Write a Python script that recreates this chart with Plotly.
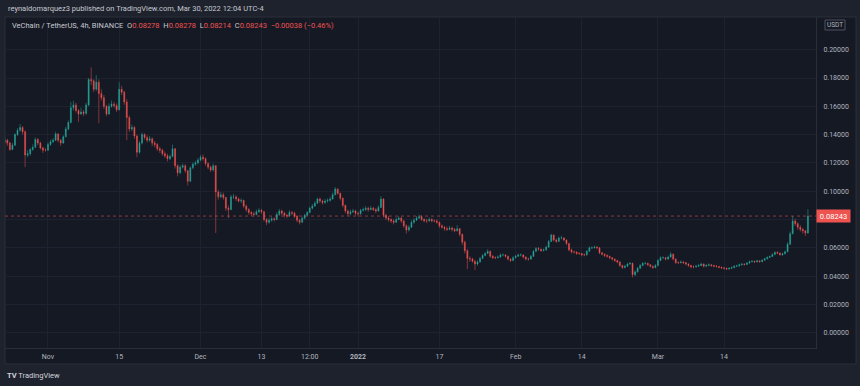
import pandas as pd
import plotly.graph_objects as go

# ---------------- data (prices in 1e-4 USDT, 12h candles) -------------
candle_start = "2021-10-23 12:00"
candle_freq = "12h"
first_open_bp = 1350

close_bp = [
    1360, 1340, 1295, 1325, 1400, 1430, 1450, 1420, 1255, 1265,
    1295, 1310, 1365, 1340, 1305, 1290, 1290, 1330, 1350, 1360,
    1405, 1360, 1340, 1385, 1440, 1485, 1590, 1610, 1570, 1545,
    1560, 1550, 1610, 1790, 1780, 1720, 1770, 1690, 1660, 1600,
    1545, 1600, 1615, 1605, 1575, 1720, 1700, 1630, 1520, 1440,
    1450, 1390, 1275, 1340, 1400, 1380, 1360, 1370, 1340, 1330,
    1300, 1290, 1265, 1250, 1230, 1245, 1300, 1180, 1130, 1170,
    1180, 1145, 1070, 1165, 1190, 1200, 1220, 1240, 1230, 1195,
    1170, 1150, 1180, 995, 960, 975, 955, 880, 870, 960,
    960, 945, 930, 935, 895, 870, 850, 840, 835, 855,
    865, 855, 800, 780, 795, 805, 800, 835, 860, 845,
    830, 825, 850, 845, 825, 795, 780, 810, 830, 850,
    880, 895, 915, 945, 930, 920, 930, 935, 945, 975,
    1015, 985, 950, 900, 860, 840, 855, 860, 845, 840,
    865, 870, 880, 870, 880, 870, 860, 885, 945, 830,
    810, 800, 790, 780, 800, 810, 790, 755, 725, 745,
    780, 795, 810, 820, 800, 790, 790, 800, 790, 790,
    780, 755, 745, 735, 730, 740, 730, 720, 735, 695,
    640, 580, 525, 520, 505, 485, 500, 525, 545, 560,
    575, 540, 530, 530, 535, 550, 550, 540, 520, 510,
    530, 540, 550, 550, 535, 520, 520, 540, 575, 595,
    590, 580, 585, 605, 645, 690, 655, 645, 670, 670,
    655, 630, 585, 570, 570, 560, 560, 550, 550, 575,
    600, 600, 605, 600, 565, 555, 545, 540, 530, 520,
    510, 500, 475, 460, 470, 485, 490, 410, 430, 455,
    475, 490, 490, 480, 470, 460, 475, 510, 530, 530,
    520, 535, 555, 520, 495, 495, 500, 495, 485, 475,
    465, 465, 470, 475, 485, 470, 475, 480, 475, 470,
    468, 462, 458, 455, 450, 455, 460, 470, 472, 480,
    485, 482, 492, 502, 505, 500, 508, 502, 512, 522,
    532, 538, 552, 568, 562, 550, 558, 572, 625, 700,
    790, 770, 745, 730, 720, 705, 824,
]

high_bp = [
    1380, 1370, 1350, 1340, 1410, 1445, 1475, 1460, 1430, 1290,
    1305, 1330, 1380, 1375, 1350, 1315, 1305, 1345, 1365, 1375,
    1420, 1410, 1370, 1395, 1455, 1500, 1630, 1640, 1625, 1580,
    1590, 1575, 1625, 1800, 1875, 1790, 1820, 1790, 1720, 1680,
    1610, 1620, 1640, 1630, 1620, 1770, 1745, 1710, 1650, 1535,
    1470, 1460, 1400, 1355, 1415, 1410, 1395, 1390, 1380, 1355,
    1340, 1315, 1300, 1280, 1265, 1260, 1330, 1305, 1190, 1185,
    1195, 1190, 1150, 1175, 1205, 1215, 1235, 1255, 1260, 1240,
    1205, 1180, 1195, 1185, 1010, 995, 990, 960, 900, 975,
    980, 970, 955, 950, 940, 905, 880, 860, 855, 870,
    880, 875, 860, 810, 810, 820, 815, 850, 875, 870,
    855, 840, 865, 860, 855, 830, 805, 820, 840, 860,
    890, 910, 930, 955, 955, 940, 945, 950, 960, 990,
    1030, 1020, 990, 955, 905, 870, 870, 875, 870, 855,
    875, 885, 895, 890, 895, 890, 880, 900, 965, 950,
    840, 825, 810, 800, 815, 825, 820, 795, 765, 760,
    795, 810, 825, 835, 830, 810, 805, 815, 810, 800,
    800, 785, 765, 755, 750, 755, 750, 740, 760, 740,
    700, 650, 590, 540, 530, 515, 510, 535, 555, 570,
    590, 580, 550, 540, 545, 560, 560, 555, 545, 525,
    540, 550, 560, 560, 555, 540, 530, 550, 585, 605,
    605, 595, 595, 615, 655, 700, 695, 665, 680, 685,
    675, 660, 635, 595, 580, 575, 570, 565, 560, 585,
    610, 610, 615, 612, 605, 570, 560, 555, 545, 535,
    525, 515, 505, 480, 480, 495, 500, 495, 440, 465,
    485, 500, 500, 495, 485, 475, 485, 520, 540, 540,
    535, 545, 570, 560, 525, 505, 510, 505, 500, 490,
    480, 475, 480, 485, 495, 490, 485, 490, 485, 480,
    478, 472, 468, 465, 460, 462, 468, 478, 480, 488,
    492, 490, 500, 510, 512, 510, 515, 512, 520, 530,
    540, 545, 560, 575, 575, 568, 565, 580, 640, 715,
    825, 805, 780, 760, 740, 725, 873,
]

low_bp = [
    1335, 1320, 1285, 1290, 1320, 1390, 1420, 1400, 1170, 1240,
    1250, 1285, 1305, 1325, 1295, 1270, 1280, 1285, 1320, 1340,
    1355, 1345, 1320, 1335, 1380, 1430, 1480, 1570, 1555, 1490,
    1540, 1530, 1540, 1600, 1750, 1700, 1710, 1480, 1640, 1580,
    1530, 1540, 1590, 1590, 1560, 1570, 1680, 1610, 1360, 1420,
    1425, 1370, 1240, 1265, 1330, 1365, 1345, 1350, 1320, 1310,
    1285, 1270, 1250, 1235, 1210, 1220, 1240, 1160, 1105, 1120,
    1160, 1130, 1040, 1065, 1155, 1180, 1190, 1210, 1215, 1180,
    1155, 1135, 1140, 705, 940, 950, 940, 860, 810, 865,
    945, 930, 920, 915, 880, 855, 835, 825, 820, 830,
    845, 840, 785, 760, 770, 785, 785, 795, 825, 830,
    815, 810, 820, 830, 810, 780, 765, 775, 800, 825,
    845, 870, 890, 910, 915, 905, 910, 920, 925, 940,
    970, 975, 935, 885, 845, 825, 830, 845, 830, 820,
    835, 855, 860, 855, 865, 860, 845, 855, 880, 815,
    795, 785, 775, 765, 775, 795, 775, 740, 700, 715,
    740, 770, 790, 805, 790, 780, 775, 785, 780, 780,
    770, 740, 735, 720, 720, 725, 715, 710, 715, 680,
    620, 560, 450, 500, 495, 443, 475, 495, 520, 540,
    555, 530, 520, 520, 525, 530, 540, 530, 510, 500,
    505, 525, 535, 540, 525, 510, 510, 515, 535, 570,
    580, 570, 575, 580, 600, 640, 645, 635, 640, 660,
    645, 620, 575, 560, 560, 550, 550, 540, 540, 545,
    570, 590, 595, 590, 555, 545, 535, 530, 520, 510,
    500, 490, 465, 450, 455, 465, 480, 390, 400, 425,
    450, 470, 480, 470, 460, 450, 455, 470, 505, 520,
    510, 515, 530, 510, 485, 485, 490, 485, 475, 465,
    455, 455, 460, 465, 470, 460, 465, 470, 465, 462,
    460, 455, 450, 448, 443, 445, 450, 455, 465, 468,
    475, 475, 478, 488, 496, 493, 496, 495, 498, 508,
    518, 528, 535, 548, 555, 545, 545, 552, 568, 620,
    695, 755, 725, 715, 700, 683, 700,
]

tick_dates = ["2021-11-01", "2021-11-15", "2021-12-01", "2021-12-13", "2021-12-22 12:00",
              "2022-01-01", "2022-01-17", "2022-02-01", "2022-02-14", "2022-03-01", "2022-03-14"]
tick_text = ["Nov", "15", "Dec", "13", "12:00", "<b>2022</b>", "17", "Feb", "14", "Mar", "14"]
price_ticks = [0.00, 0.02, 0.04, 0.06, 0.08, 0.10, 0.12, 0.14, 0.16, 0.18, 0.20]

last_price = 0.08243
legend_ohlc = {"O": "0.08278", "H": "0.08278", "L": "0.08214", "C": "0.08243"}
legend_change = "−0.00038 (−0.46%)"
header_text = "reynaldomarquez3 published on TradingView.com, Mar 30, 2022 12:04 UTC-4"
symbol_text = "VeChain / TetherUS, 4h, BINANCE"

# ---------------- figure ----------------
SCALE = 1e-4
closes = [v * SCALE for v in close_bp]
highs = [v * SCALE for v in high_bp]
lows = [v * SCALE for v in low_bp]
opens = [first_open_bp * SCALE] + closes[:-1]
dates = pd.date_range(candle_start, periods=len(closes), freq=candle_freq)

UP = "#26a69a"
DOWN = "#ef5350"
PANE = "#151924"
FRAME = "#1e222d"
GRID = "#1e2230"
SEP = "#2a2e39"
TXT = "#b2b5be"
FONT = "Roboto, Liberation Sans, sans-serif"

W, H = 860, 386
L, R, T, B = 5, 44, 17, 38
PW, PH = W - L - R, H - T - B


def px(x):
    return (x - L) / PW


def py(y):
    return (H - B - y) / PH


fig = go.Figure()
fig.add_trace(go.Candlestick(
    x=dates, open=opens, high=highs, low=lows, close=closes,
    increasing=dict(line=dict(color=UP, width=0.5), fillcolor=UP),
    decreasing=dict(line=dict(color=DOWN, width=0.5), fillcolor=DOWN),
    whiskerwidth=0, showlegend=False, hoverinfo="skip",
))

shapes = [
    # chart pane (incl. axis strips)
    dict(type="rect", xref="paper", yref="paper", x0=px(5), x1=px(856), y0=py(364), y1=py(17),
         fillcolor=PANE, line=dict(color=SEP, width=1), layer="below"),
    # last price line
    dict(type="line", xref="paper", yref="y", x0=0, x1=1, y0=last_price, y1=last_price,
         line=dict(color=DOWN, width=1, dash="3px,3px"), opacity=0.55),
    # USDT box
    dict(type="rect", xref="paper", yref="paper", x0=px(825), x1=px(845), y0=py(30), y1=py(20),
         line=dict(color="#50535e", width=1), fillcolor=PANE),
]

legend_html = (f'<span style="color:#c5c8d0">{symbol_text}</span>  ' +
               "  ".join(f'<span style="color:#c5c8d0">{k}</span><span style="color:{DOWN}">{v}</span>'
                         for k, v in legend_ohlc.items()) +
               f'  <span style="color:{DOWN}">{legend_change}</span>')

annotations = [
    dict(xref="paper", yref="paper", x=px(6), y=py(9), xanchor="left", yanchor="middle",
         text=header_text, showarrow=False, font=dict(family=FONT, size=7.5, color="#c5c8d0")),
    dict(xref="paper", yref="paper", x=px(10), y=py(25), xanchor="left", yanchor="middle",
         text=legend_html, showarrow=False, font=dict(family=FONT, size=7.5, color="#c5c8d0")),
    dict(xref="paper", yref="y", x=px(816), y=last_price, xanchor="left", yanchor="middle",
         text=f"{last_price:.5f}", showarrow=False, bgcolor=DOWN, borderpad=1.5, width=30,
         font=dict(family=FONT, size=7.5, color="#ffffff")),
    dict(xref="paper", yref="paper", x=px(835), y=py(25), xanchor="center", yanchor="middle",
         text="USDT", showarrow=False, font=dict(family=FONT, size=6.5, color=TXT)),
    dict(xref="paper", yref="paper", x=px(5), y=py(375), xanchor="left", yanchor="middle",
         text="<b>TV</b> TradingView", showarrow=False, font=dict(family=FONT, size=7.5, color="#d1d4dc")),
]

# the 0.08 tick label sits under the last-price badge, so leave its text empty
price_tick_text = ["" if abs(v - last_price) < 0.005 else f"{v:.5f}" for v in price_ticks]

fig.update_layout(
    width=W, height=H,
    margin=dict(l=L, r=R, t=T, b=B),
    paper_bgcolor=FRAME, plot_bgcolor=PANE,
    font=dict(family=FONT, color=TXT, size=7),
    hovermode=False, dragmode=False, boxgap=0.45,
    shapes=shapes, annotations=annotations,
    xaxis=dict(
        type="date", range=["2021-10-23 13:00", "2022-04-01 02:10"],
        rangeslider=dict(visible=False),
        tickvals=tick_dates, ticktext=tick_text, tickangle=0,
        showgrid=True, gridcolor=GRID, gridwidth=1,
        showline=True, linecolor=SEP, linewidth=1, ticks="",
        tickfont=dict(family=FONT, size=7, color=TXT), ticklabelstandoff=2,
        zeroline=False, fixedrange=True,
    ),
    yaxis=dict(
        side="right", range=[(332.7 - 348) / 1415.0, (332.7 - 17) / 1415.0],
        tickvals=price_ticks, ticktext=price_tick_text,
        showgrid=True, gridcolor=GRID, gridwidth=1,
        showline=True, linecolor=SEP, linewidth=1, ticks="",
        tickfont=dict(family=FONT, size=7, color=TXT), ticklabelstandoff=5,
        zeroline=False, fixedrange=True,
    ),
)

fig.write_html("out.html", config={"displayModeBar": False, "staticPlot": True},
               post_script="document.body.style.margin='0';document.body.style.overflow='hidden';")
